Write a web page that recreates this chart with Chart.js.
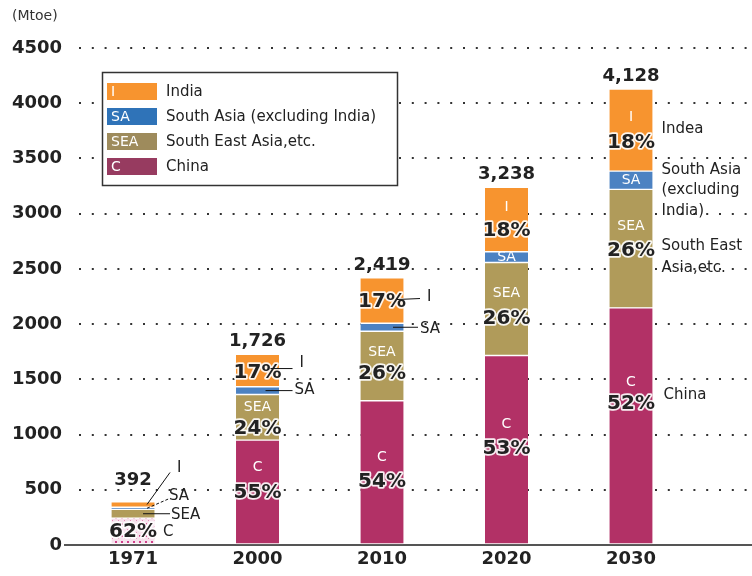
<!DOCTYPE html>
<html>
<head>
<meta charset="utf-8">
<script src="https://cdn.jsdelivr.net/npm/chart.js@4"></script>
<style>
html,body{margin:0;padding:0;background:#fff;}
#wrap{position:relative;width:752px;height:576px;}
</style>
</head>
<body>
<div id="wrap"><canvas id="c" width="752" height="576"></canvas></div>
<script>
// ---- data ----
const categories = ['1971', '2000', '2010', '2020', '2030'];
const china      = [243, 949, 1306, 1716, 2147];
const southEast  = [80, 414, 629, 842, 1073];
const southAsia  = [19, 70, 73, 97, 165];
const india      = [50, 293, 411, 583, 743];
const chinaPct   = [62, 55, 54, 53, 52];
const seaPct     = [null, 24, 26, 26, 26];
const indiaPct   = [null, 17, 17, 18, 18];
const yTicks     = [0, 500, 1000, 1500, 2000, 2500, 3000, 3500, 4000, 4500];

const FONT = '"DejaVu Sans", Verdana, sans-serif';
const COLORS = { china: '#B23166', sea: '#B09B5A', sa: '#4C82C2', india: '#F7942F' };

// dotted pattern for the 1971 China segment
function makePattern() {
  const p = document.createElement('canvas');
  p.width = 6; p.height = 6;
  const g = p.getContext('2d');
  g.fillStyle = '#F6E1EC'; g.fillRect(0, 0, 6, 6);
  g.fillStyle = '#D0408A'; g.fillRect(1, 1, 2, 2);
  g.fillStyle = '#E68AB8'; g.fillRect(4, 4, 1, 1);
  return g.createPattern(p, 'repeat');
}
const pattern = makePattern();

const pts = arr => arr.map((v, i) => ({ x: i, y: v }));

// label layout (pixel nudges relative to each segment's middle)
const letters = ['C', 'SEA', 'SA', 'I'];
const innerLetters = {
  1: [[1, -10], [0, -25]],
  2: [[1, -14], [0, -15]],
  3: [[3, -12], [2, 0], [1, -16], [0, -25]],
  4: [[3, -13], [2, 0], [1, -22], [0, -44]]
};
const pctNudge = {
  0: { 0: 0 },
  1: { 3: 1, 1: 10, 0: 0 },
  2: { 3: 0, 1: 7, 0: 8 },
  3: { 3: 10, 1: 9, 0: -2 },
  4: { 3: 12, 1: 1, 0: -23 }
};

const labelPlugin = {
  id: 'labels',
  afterDatasetsDraw(chart) {
    const ctx = chart.ctx;
    const metas = [0, 1, 2, 3].map(i => chart.getDatasetMeta(i));
    const seg = (d, j) => {
      const el = metas[d].data[j];
      return { x: el.x, top: el.y, base: el.base, mid: (el.y + el.base) / 2, right: el.x + el.width / 2 };
    };
    const pcts = [chinaPct, seaPct, null, indiaPct];
    ctx.save();
    // inner white letters
    ctx.textAlign = 'center'; ctx.textBaseline = 'middle';
    ctx.font = '14px ' + FONT;
    ctx.fillStyle = '#ffffff';
    Object.keys(innerLetters).forEach(j => {
      innerLetters[j].forEach(([d, dy]) => {
        const s = seg(d, +j);
        ctx.fillText(letters[d], s.x, s.mid + dy);
      });
    });
    // percentages
    ctx.font = 'bold 20px ' + FONT;
    ctx.lineJoin = 'round';
    Object.keys(pctNudge).forEach(j => {
      Object.keys(pctNudge[j]).forEach(d => {
        const v = pcts[d][j];
        if (v == null) return;
        const s = seg(+d, +j);
        const t = v + '%';
        ctx.strokeStyle = 'rgba(255,255,255,0.9)'; ctx.lineWidth = 3.5;
        ctx.strokeText(t, s.x, s.mid + pctNudge[j][d] + 1);
        ctx.fillStyle = '#222222';
        ctx.fillText(t, s.x, s.mid + pctNudge[j][d] + 1);
      });
    });
    // totals
    ctx.font = 'bold 18px ' + FONT;
    ctx.fillStyle = '#222222';
    categories.forEach((c, j) => {
      const total = china[j] + southEast[j] + southAsia[j] + india[j];
      const s = seg(3, j);
      ctx.fillText(total.toLocaleString('en-US'), s.x, s.top - (j === 0 ? 21 : 13));
    });
    // leader lines and outside labels
    ctx.font = '15px ' + FONT;
    ctx.textAlign = 'left';
    ctx.strokeStyle = '#111111'; ctx.lineWidth = 1;
    const line = (x1, y1, x2, y2, dash) => {
      ctx.beginPath(); ctx.setLineDash(dash || []);
      ctx.moveTo(x1, y1); ctx.lineTo(x2, y2); ctx.stroke(); ctx.setLineDash([]);
    };
    // 1971
    {
      const I = seg(3, 0), SA = seg(2, 0), SE = seg(1, 0), C = seg(0, 0), cx = I.x;
      line(cx + 14, I.mid, cx + 37, I.mid - 32);
      ctx.fillText('I', cx + 44, I.mid - 36);
      line(cx + 14, SA.mid, cx + 37, SA.mid - 10, [3, 2]);
      ctx.fillText('SA', cx + 36, SA.mid - 12);
      line(cx + 10, SE.mid, cx + 37, SE.mid);
      ctx.fillText('SEA', cx + 38, SE.mid + 1);
      ctx.fillText('C', cx + 30, C.mid + 1);
    }
    // 2000
    {
      const I = seg(3, 1), SA = seg(2, 1), cx = I.x;
      line(cx + 13, I.mid - 2, cx + 35, I.mid - 2);
      ctx.fillText('I', cx + 42, I.mid - 7);
      line(cx + 8, SA.mid, cx + 35, SA.mid);
      ctx.fillText('SA', cx + 37, SA.mid);
    }
    // 2010
    {
      const I = seg(3, 2), SA = seg(2, 2), cx = I.x;
      line(cx + 15, I.mid - 1, cx + 38, I.mid - 2);
      ctx.fillText('I', cx + 45, I.mid - 3);
      line(cx + 11, SA.mid, cx + 36, SA.mid);
      ctx.fillText('SA', cx + 38, SA.mid + 2);
    }
    // 2030 names
    {
      const I = seg(3, 4), SA = seg(2, 4), SE = seg(1, 4), C = seg(0, 4), x = I.right + 9;
      ctx.fillText('Indea', x, I.mid - 1);
      ctx.fillText('South Asia', x, SA.mid - 10);
      ctx.fillText('(excluding', x, SA.mid + 10);
      ctx.fillText('India)', x, SA.mid + 31);
      ctx.fillText('South East', x, SE.mid - 3);
      ctx.fillText('Asia,etc.', x, SE.mid + 19);
      ctx.fillText('China', x + 2, C.mid - 31);
    }
    ctx.restore();
  },
  beforeDatasetsDraw(chart) {
    // base line (axis at zero)
    const ctx = chart.ctx, y = chart.scales.y.getPixelForValue(0);
    ctx.save();
    ctx.strokeStyle = '#555555'; ctx.lineWidth = 2;
    ctx.beginPath(); ctx.moveTo(64, y); ctx.lineTo(chart.chartArea.right, y); ctx.stroke();
    ctx.restore();
  },
  afterDraw(chart) {
    const ctx = chart.ctx;
    ctx.save();
    // unit
    ctx.font = '14px ' + FONT; ctx.fillStyle = '#333333';
    ctx.textAlign = 'left'; ctx.textBaseline = 'middle';
    ctx.fillText('(Mtoe)', 12, 16);
    // legend box
    const bx = 102.5, by = 72.5, bw = 295, bh = 113;
    ctx.fillStyle = '#ffffff'; ctx.fillRect(bx, by, bw, bh);
    ctx.strokeStyle = '#333333'; ctx.lineWidth = 1.5; ctx.strokeRect(bx, by, bw, bh);
    const items = [
      ['I', 'India', COLORS.india],
      ['SA', 'South Asia (excluding India)', '#2F73B8'],
      ['SEA', 'South East Asia,etc.', '#9E8B5C'],
      ['C', 'China', '#973B60']
    ];
    items.forEach((it, k) => {
      const cy = 91 + k * 25;
      ctx.fillStyle = it[2]; ctx.fillRect(107, cy - 8, 50, 17);
      ctx.fillStyle = '#ffffff'; ctx.font = '14px ' + FONT;
      ctx.fillText(it[0], 111, cy + 1);
      ctx.fillStyle = '#222222'; ctx.font = '15px ' + FONT;
      ctx.fillText(it[1], 166, cy + 1);
    });
    ctx.restore();
  }
};

const segBorder = { top: 1, bottom: 1, left: 0, right: 0 };
new Chart(document.getElementById('c'), {
  type: 'bar',
  data: {
    datasets: [
      { label: 'China', data: pts(china), backgroundColor: ctx => ctx.dataIndex === 0 ? pattern : COLORS.china },
      { label: 'South East Asia,etc.', data: pts(southEast), backgroundColor: COLORS.sea },
      { label: 'South Asia (excluding India)', data: pts(southAsia), backgroundColor: COLORS.sa },
      { label: 'India', data: pts(india), backgroundColor: COLORS.india }
    ].map(d => Object.assign(d, { borderColor: '#ffffff', borderWidth: segBorder, borderSkipped: false, barThickness: 43 }))
  },
  options: {
    responsive: false,
    animation: false,
    devicePixelRatio: 1,
    layout: { padding: { left: 12, top: 48, right: 0, bottom: 0 } },
    plugins: { legend: { display: false }, tooltip: { enabled: false } },
    scales: {
      x: {
        type: 'linear', stacked: true, min: -0.434, max: 4.972, offset: false,
        afterBuildTicks: s => { s.ticks = categories.map((c, i) => ({ value: i })); },
        afterFit: s => { s.height = 31; },
        ticks: { callback: (v, i) => categories[i], font: { family: FONT, size: 18, weight: 'bold' }, color: '#222222', padding: 4, maxRotation: 0, autoSkip: false },
        grid: { display: false, drawTicks: false, offset: false },
        border: { display: false }
      },
      y: {
        stacked: true, min: 0, max: 4500,
        afterBuildTicks: s => { s.ticks = yTicks.map(v => ({ value: v })); },
        afterFit: s => { s.width = 67; },
        ticks: { callback: v => String(v), font: { family: FONT, size: 18, weight: 'bold' }, color: '#222222', padding: 17 },
        grid: { drawTicks: false, lineWidth: 2, color: c => c.tick && c.tick.value === 0 ? 'rgba(0,0,0,0)' : '#333333' },
        border: { display: false, dash: [2, 10.8] }
      }
    }
  },
  plugins: [labelPlugin]
});
</script>
</body>
</html>
